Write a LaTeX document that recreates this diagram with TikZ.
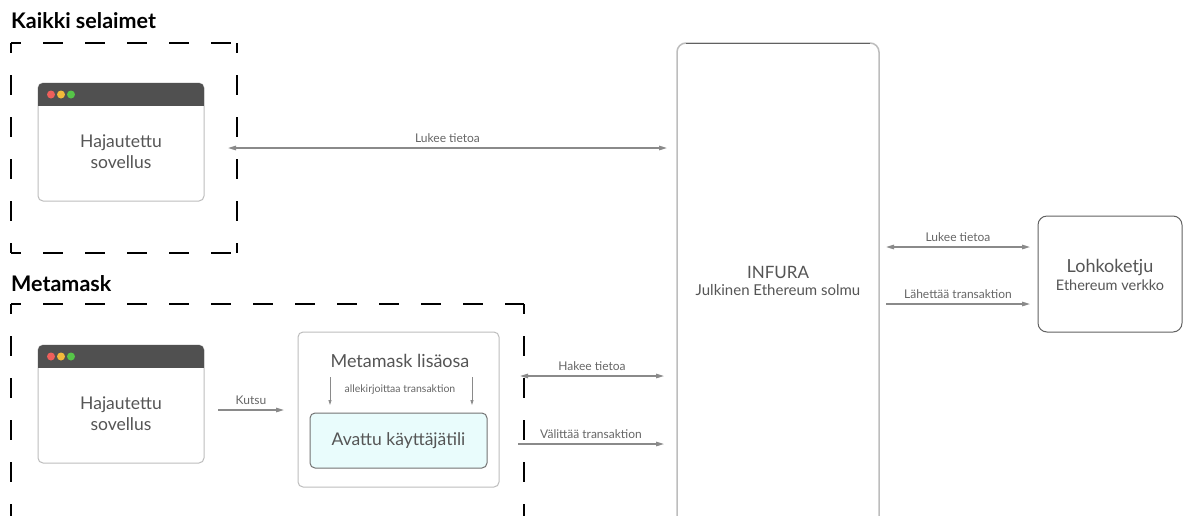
\documentclass[tikz,border=0pt]{standalone}
\usepackage{fontspec}
\setmainfont{Lato}
\usetikzlibrary{arrows.meta,calc}
\definecolor{txt}{HTML}{555555}
\definecolor{lbl}{HTML}{666666}
\definecolor{arr}{HTML}{8A8A8A}
\definecolor{hdr}{HTML}{505050}
\definecolor{frame}{HTML}{BDBDBD}
\definecolor{dred}{HTML}{EE5F5B}
\definecolor{dyel}{HTML}{F2B93B}
\definecolor{dgrn}{HTML}{56C548}
\definecolor{cyanfill}{HTML}{E9FCFC}
\tikzset{
  group/.style={draw=black, line width=2.2pt, dash pattern=on 20pt off 22pt, dash phase=10pt},
  title/.style={anchor=base west, inner sep=0pt, font=\fontsize{21.5}{25}\selectfont\bfseries, text=black},
  win/.style={draw=frame, line width=1pt, rounded corners=5pt, fill=white},
  bigtxt/.style={text=txt, font=\fontsize{17.5}{21}\selectfont, align=center},
  midtxt/.style={text=txt, font=\fontsize{14.5}{17}\selectfont, align=center},
  lab/.style={text=lbl, font=\fontsize{12}{14}\selectfont},
  conn/.style={draw=arr, line width=1.3pt, -{Triangle[length=8pt,width=4.5pt]}},
  bconn/.style={draw=arr, line width=1.3pt, {Triangle[length=8pt,width=4.5pt]}-{Triangle[length=8pt,width=4.5pt]}},
  thin/.style={draw=arr, line width=0.8pt, -{Triangle[length=5pt,width=3pt]}},
  dot/.style={circle, inner sep=0pt, minimum size=8pt}
}
\begin{document}
\begin{tikzpicture}[x=1pt,y=-1pt]
\useasboundingbox (0,0) rectangle (1183,515);
\clip (0,0) rectangle (1183,515);
\fill[white] (0,0) rectangle (1183,515);

% titles
\node[title] (t1) at (11,28) {Kaikki selaimet};
\node[title] (t2) at (11,291) {Metamask};

% dashed groups
\draw[group] (11,43) -- (237,43);
\draw[group] (11,43) -- (11,253);
\draw[group] (237,43) -- (237,253);
\draw[group] (11,253) -- (237,253);
\draw[group] (11,304) -- (524,304);
\draw[group] (11,304) -- (11,540);
\draw[group] (524,304) -- (524,540);

% browser windows
\foreach \n/\y in {w1/83, w2/345}{
  \draw[win] (38,\y) rectangle (204,\y+118);
  \begin{scope}
    \clip[rounded corners=5pt] (38,\y) rectangle (204,\y+40);
    \fill[hdr] (38,\y) rectangle (204,\y+23);
  \end{scope}
  \node[dot, fill=dred] at (51,\y+11.5) {};
  \node[dot, fill=dyel] at (61,\y+11.5) {};
  \node[dot, fill=dgrn] at (71,\y+11.5) {};
}
\node[bigtxt] (app1) at (121,152) {Hajautettu\\sovellus};
\node[bigtxt] (app2) at (121,414) {Hajautettu\\sovellus};

% metamask extension
\draw[win] (298,332) rectangle (499,487);
\node[bigtxt, font=\fontsize{18}{21}\selectfont] (mm) at (400,361) {Metamask lisäosa};
\node[draw=hdr!80, line width=1pt, rounded corners=5pt, fill=cyanfill,
      minimum width=177pt, minimum height=55pt, inner sep=0pt] (acc) at (398.5,440.5) {};
\node[bigtxt] at (acc.center) {Avattu käyttäjätili};
\coordinate (s1a) at (330,377); \coordinate (s1b) at (330,405);
\coordinate (s2a) at (472,377); \coordinate (s2b) at (472,405);
\draw[thin] (s1a) -- (s1b);
\draw[thin] (s2a) -- (s2b);
\node[lab, font=\fontsize{10.5}{12}\selectfont] (sign) at (400,390) {allekirjoittaa transaktion};

% INFURA
\draw[draw=frame, line width=1.5pt, rounded corners=9pt] (677,560) -- (677,43) -- (879,43) -- (879,560);
\draw[draw=hdr!90, line width=1pt] (686,43) -- (870,43);
\node[bigtxt, font=\fontsize{17}{20}\selectfont] (inf) at (778,272) {INFURA};
\node[midtxt, font=\fontsize{15}{18}\selectfont] (infs) at (778,290) {Julkinen Ethereum solmu};

% Blockchain
\draw[draw=hdr!90, line width=1pt, rounded corners=9pt] (1038,216) rectangle (1182,332);
\node[bigtxt, font=\fontsize{18}{21}\selectfont] (bc) at (1110,268) {Lohkoketju};
\node[midtxt] (bcs) at (1110,285) {Ethereum verkko};

% connectors
\coordinate (a1) at (228,148); \coordinate (b1) at (667,148);
\draw[bconn] (a1) -- (b1) node[lab, midway, above=1pt] {Lukee tietoa};

\coordinate (a2) at (218,410); \coordinate (b2) at (284,410);
\draw[conn] (a2) -- (b2) node[lab, midway, above=1pt] {Kutsu};

\coordinate (a3) at (520,376); \coordinate (b3) at (664,376);
\draw[bconn] (a3) -- (b3) node[lab, midway, above=1pt] {Hakee tietoa};

\coordinate (a4) at (518,444); \coordinate (b4) at (664,444);
\draw[conn] (a4) -- (b4) node[lab, midway, above=1pt] {Välittää transaktion};

\coordinate (a5) at (886,247); \coordinate (b5) at (1030,247);
\draw[bconn] (a5) -- (b5) node[lab, midway, above=1pt] {Lukee tietoa};

\coordinate (a6) at (886,304); \coordinate (b6) at (1030,304);
\draw[conn] (a6) -- (b6) node[lab, midway, above=1pt] {Lähettää transaktion};
\end{tikzpicture}
\end{document}
